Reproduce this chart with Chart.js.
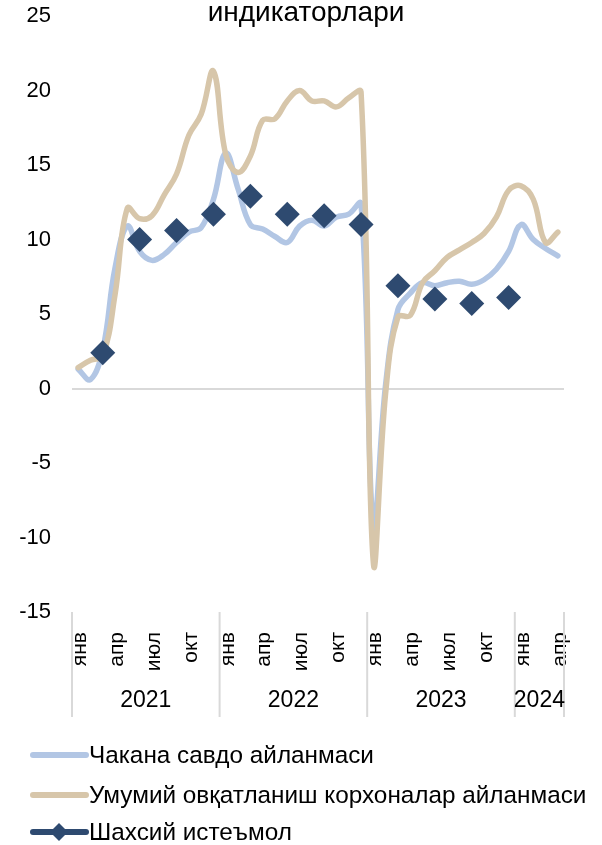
<!DOCTYPE html>
<html>
<head>
<meta charset="utf-8">
<script src="https://cdn.jsdelivr.net/npm/chart.js@4.4.1/dist/chart.umd.min.js"></script>
<style>
  html, body { margin: 0; padding: 0; background: #fff; }
  #wrap { width: 602px; height: 845px; }
</style>
</head>
<body>
<div id="wrap"><canvas id="chart" width="602" height="845"></canvas></div>
<script>
// --- data ---
const monthNames = ['янв', 'фев', 'мар', 'апр', 'май', 'июн', 'июл', 'авг', 'сен', 'окт', 'ноя', 'дек'];
const years = ['2021', '2022', '2023', '2024'];

// Чакана савдо айланмаси (янв 2021 - апр 2024)
const retail = [1.3, 0.6, 2.6, 8.1, 10.9, 9.2, 8.6, 9.0, 9.8, 10.5, 10.8, 12.7,
                15.8, 13.4, 11.0, 10.7, 10.2, 9.8, 10.9, 11.3, 10.9, 11.5, 11.7, 12.4,
                -9.2, 0.3, 5.3, 6.4, 7.1, 6.9, 7.1, 7.2, 7.0, 7.3, 8.0, 9.2,
                11.0, 10.0, 9.4, 8.9];

// Умумий овқатланиш корхоналар айланмаси
const catering = [1.4, 1.9, 2.2, 6.3, 12.1, 11.4, 11.6, 13.0, 14.4, 17.0, 18.4, 21.3,
                  15.7, 14.5, 15.6, 18.0, 18.1, 19.3, 20.0, 19.3, 19.3, 18.9, 19.5, 19.9,
                  -11.7, -0.3, 4.8, 4.9, 7.1, 7.9, 8.8, 9.3, 9.8, 10.4, 11.5, 13.3,
                  13.6, 12.7, 9.8, 10.5];

// Шахсий истеъмол (quarterly, last month of quarter)
const consumption = [null, null, 2.4, null, null, 10.0, null, null, 10.6, null, null, 11.7,
                     null, null, 12.9, null, null, 11.7, null, null, 11.6, null, null, 11.0,
                     null, null, 6.9, null, null, 6.0, null, null, 5.7, null, null, 6.1,
                     null, null, null, null];

const yMin = -15, yMax = 25, yStep = 5;

const labels = retail.map((v, i) => monthNames[i % 12]);

const FONT = '"Liberation Sans", Arial, sans-serif';
const BLUE = '#b2c6e4';
const TAN = '#d7c6aa';
const NAVY = '#2e4a70';

const legendItems = [
    { text: 'Чакана савдо айланмаси', color: BLUE, marker: false },
    { text: 'Умумий овқатланиш корхоналар айланмаси', color: TAN, marker: false },
    { text: 'Шахсий истеъмол', color: NAVY, marker: true }
];

// title, year axis, separators and legend
const extras = {
    id: 'extras',
    afterDraw(chart) {
        const ctx = chart.ctx;
        const x = chart.scales.x;
        const n = labels.length;
        const step = x.getPixelForValue(1) - x.getPixelForValue(0);
        ctx.save();

        ctx.fillStyle = '#000';
        ctx.font = '28px ' + FONT;
        ctx.textAlign = 'center';
        ctx.textBaseline = 'alphabetic';
        ctx.fillText('индикаторлари', 306, 21);

        // year groups
        ctx.strokeStyle = '#d9d9d9';
        ctx.lineWidth = 2;
        ctx.font = '23px ' + FONT;
        ctx.textBaseline = 'middle';
        const top = chart.chartArea.bottom;
        years.forEach((yr, k) => {
            const first = k * 12;
            const last = Math.min(first + 11, n - 1);
            const x0 = x.getPixelForValue(first) - step / 2;
            const x1 = x.getPixelForValue(last) + step / 2;
            ctx.beginPath();
            ctx.moveTo(x0, top);
            ctx.lineTo(x0, 717);
            ctx.stroke();
            if (last === n - 1) {
                ctx.beginPath();
                ctx.moveTo(x1, top);
                ctx.lineTo(x1, 717);
                ctx.stroke();
            }
            ctx.fillText(yr, (x0 + x1) / 2, 701);
        });

        // legend
        ctx.textAlign = 'left';
        ctx.font = '24.3px ' + FONT;
        const rows = [755, 795, 832];
        legendItems.forEach((it, i) => {
            const y = rows[i];
            ctx.strokeStyle = it.color;
            ctx.lineWidth = 6;
            ctx.lineCap = 'round';
            ctx.beginPath();
            ctx.moveTo(33, y);
            ctx.lineTo(86, y);
            ctx.stroke();
            if (it.marker) {
                ctx.fillStyle = it.color;
                ctx.beginPath();
                ctx.moveTo(59, y - 9);
                ctx.lineTo(68, y);
                ctx.lineTo(59, y + 9);
                ctx.lineTo(50, y);
                ctx.closePath();
                ctx.fill();
            }
            ctx.fillStyle = '#000';
            ctx.fillText(it.text, 89, y + 1);
        });
        ctx.restore();
    }
};

new Chart(document.getElementById('chart'), {
    type: 'line',
    data: {
        labels: labels,
        datasets: [
            {
                label: legendItems[2].text,
                data: consumption,
                showLine: false,
                pointStyle: 'rectRot',
                pointRadius: 12.5,
                pointBackgroundColor: NAVY,
                pointBorderColor: NAVY,
                pointBorderWidth: 0,
                order: 0
            },
            {
                label: legendItems[1].text,
                data: catering,
                borderColor: TAN,
                borderWidth: 5.5,
                tension: 0.4,
                pointRadius: 0,
                borderCapStyle: 'round',
                borderJoinStyle: 'round',
                order: 1
            },
            {
                label: legendItems[0].text,
                data: retail,
                borderColor: BLUE,
                borderWidth: 5.5,
                tension: 0.4,
                pointRadius: 0,
                borderCapStyle: 'round',
                borderJoinStyle: 'round',
                order: 2
            }
        ]
    },
    plugins: [extras],
    options: {
        responsive: false,
        animation: false,
        layout: { autoPadding: false, padding: { top: 16, right: 38, left: 0, bottom: 0 } },
        scales: {
            x: {
                offset: true,
                grid: { display: false, offset: true },
                border: { display: false },
                // fixed height so the plot ends at the same place as the original
                afterFit: s => { s.height = 233; s.paddingTop = 0; s.paddingBottom = 0; },
                ticks: {
                    autoSkip: false,
                    maxRotation: 90,
                    minRotation: 90,
                    padding: 12,
                    labelOffset: 2,
                    color: '#000',
                    font: { family: FONT, size: 21 },
                    callback: (v, i) => (i % 3 === 0 ? labels[i] : '')
                }
            },
            y: {
                min: yMin,
                max: yMax,
                afterFit: s => { s.width = 72; s.paddingTop = 0; s.paddingBottom = 0; },
                border: { display: false },
                grid: {
                    drawTicks: false,
                    lineWidth: 2,
                    color: c => (c.tick && c.tick.value === 0 ? '#d9d9d9' : 'rgba(0,0,0,0)')
                },
                ticks: {
                    stepSize: yStep,
                    padding: 21,
                    color: '#000',
                    font: { family: FONT, size: 22 }
                }
            }
        },
        plugins: {
            legend: { display: false },
            tooltip: { enabled: false }
        }
    }
});
</script>
</body>
</html>
